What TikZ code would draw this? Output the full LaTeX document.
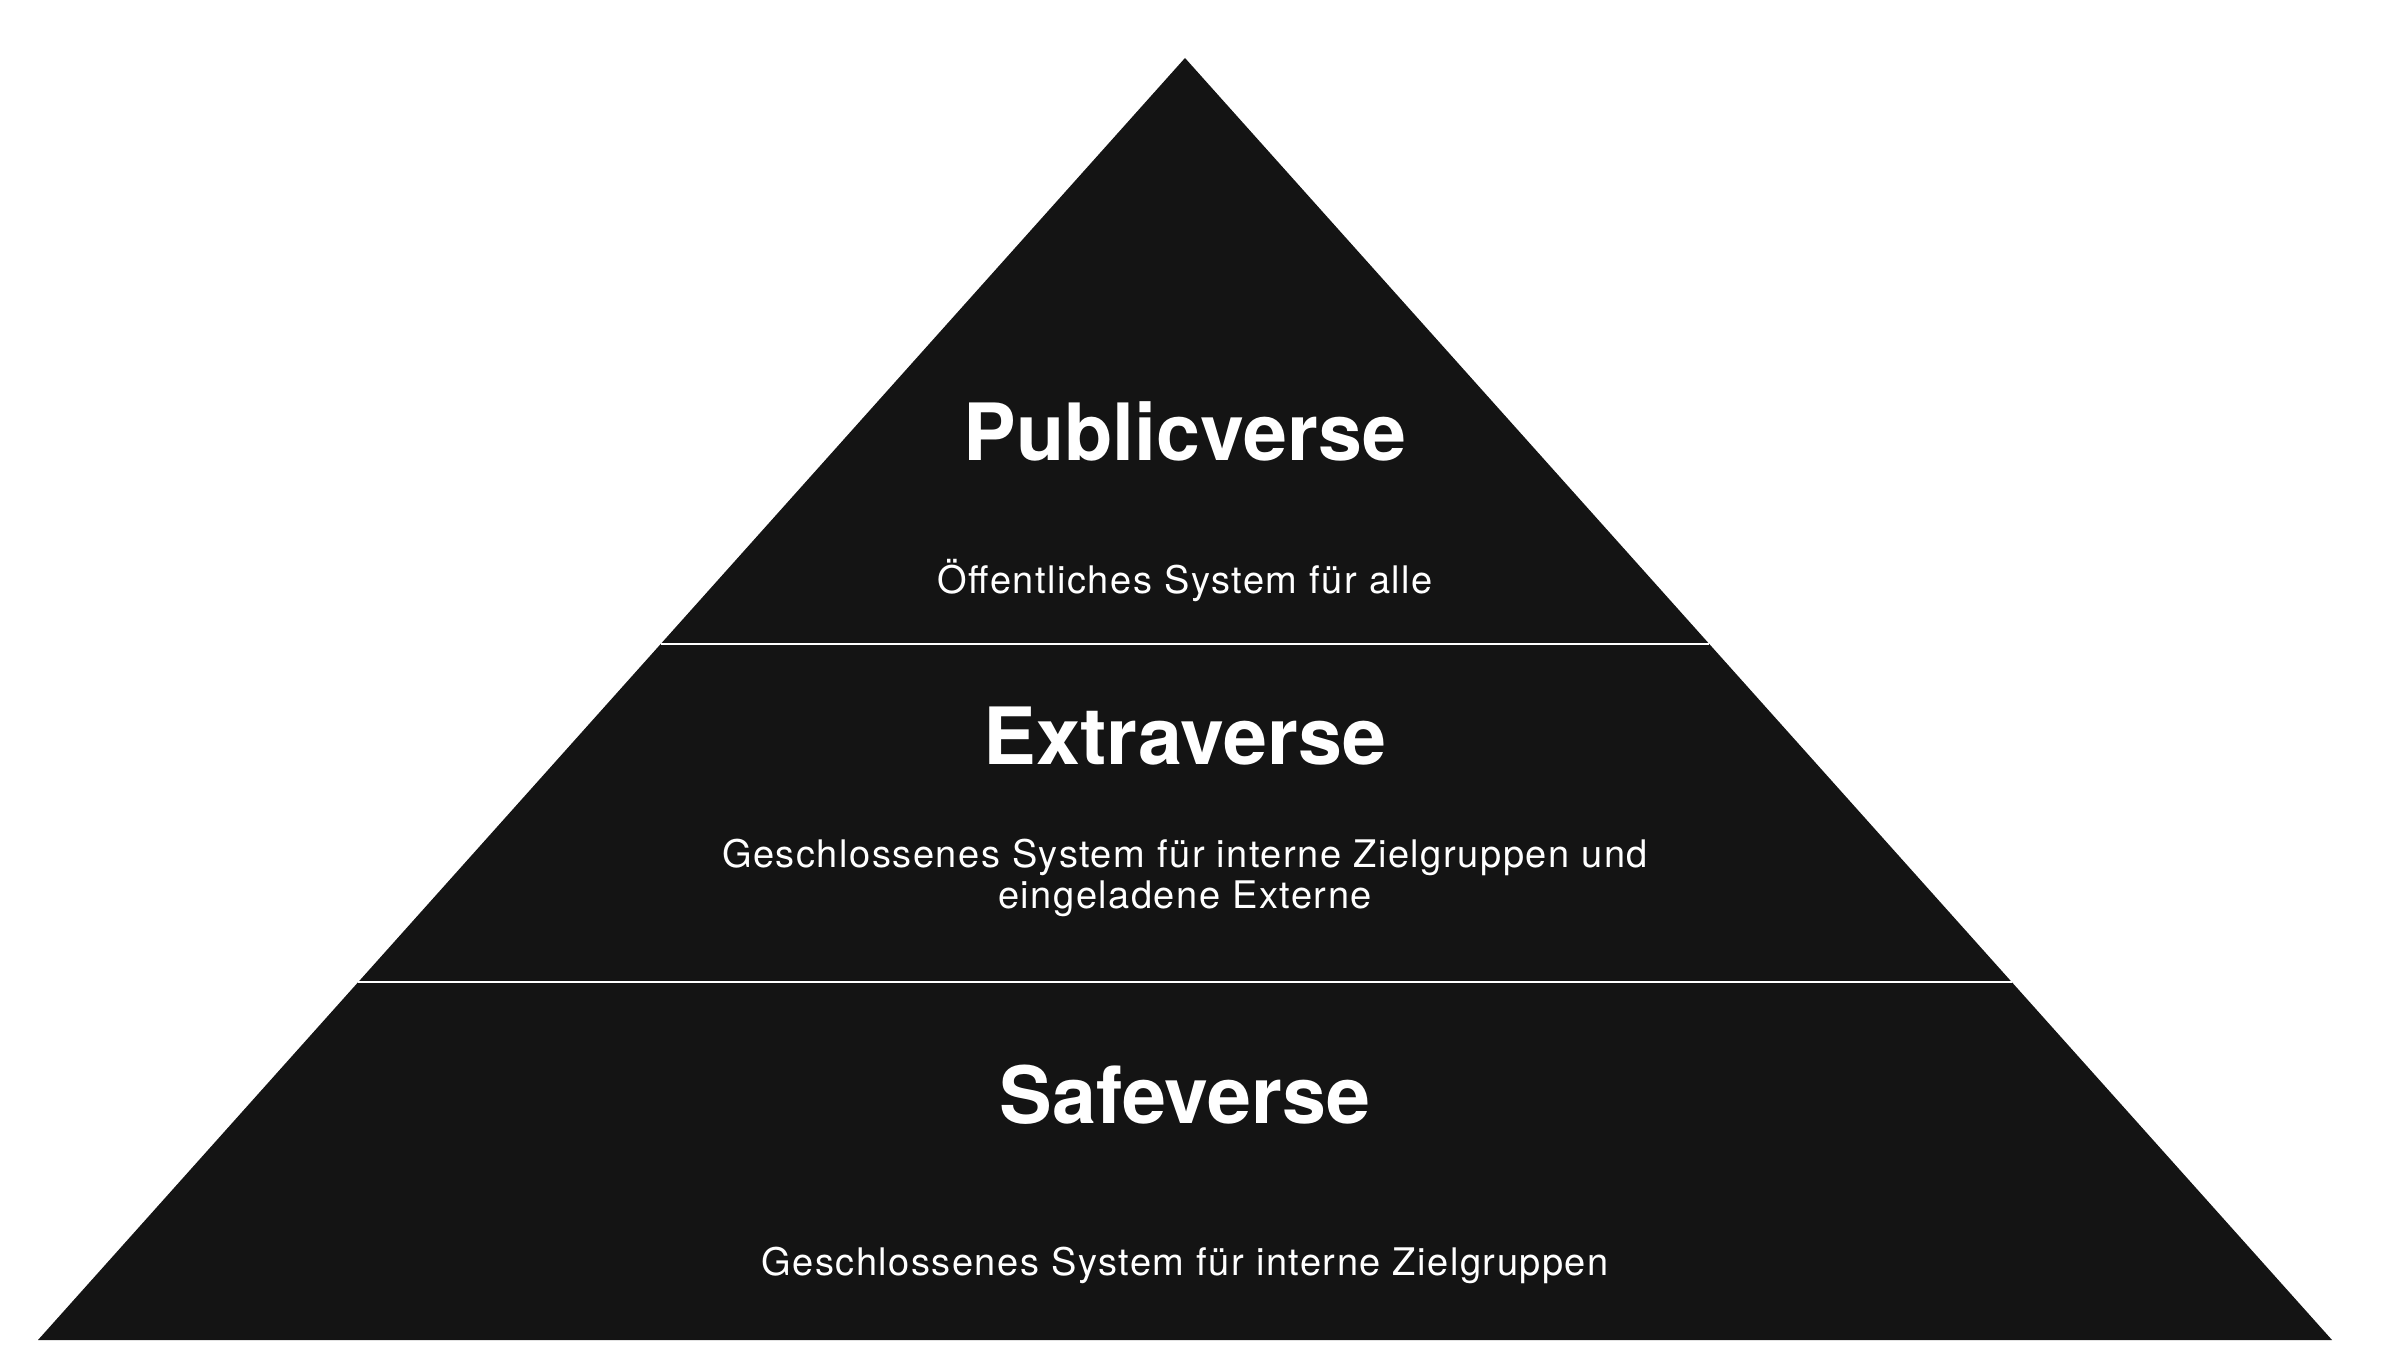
\documentclass[tikz,border=0pt]{standalone}
\usepackage{fontspec}
\setmainfont{TeX Gyre Heros}
\newfontfamily\subfont[LetterSpace=4]{TeX Gyre Heros}
\usetikzlibrary{calc}
\definecolor{pyramid}{RGB}{20,20,20}
\tikzstyle{layer} = [text=white, anchor=base, inner sep=0pt]
\tikzstyle{title} = [layer, font=\bfseries\fontsize{39.5}{44}\selectfont]
\tikzstyle{caption} = [layer, align=center,
                       font=\subfont\fontsize{19}{20.5}\selectfont]
\tikzstyle{divider} = [draw=white, line width=1pt]
\begin{document}
\begin{tikzpicture}[x=0.5pt, y=-0.5pt]
  \useasboundingbox (0,0) rectangle (2384,1354);
  \coordinate (apex) at (1185,58);
  \coordinate (left) at (38,1340);
  \coordinate (right) at (2332,1340);
  \fill[pyramid] (apex) -- (right) -- (left) -- cycle;
  % dividers between the layers
  \coordinate (upperL) at (660.7,644);
  \coordinate (upperR) at (1709.3,644);
  \coordinate (lowerL) at (358.3,982);
  \coordinate (lowerR) at (2011.7,982);
  \draw[divider] (upperL) -- (upperR);
  \draw[divider] (lowerL) -- (lowerR);
  % labels
  \node[title] (publicverse) at (1185,460) {Publicverse};
  \node[caption] (publictext) at (1185,593) {Öffentliches System für alle};
  \node[title] (extraverse) at (1185,764) {Extraverse};
  \node[caption] (extratext) at (1185,908)
    {Geschlossenes System für interne Zielgruppen und\\eingeladene Externe};
  \node[title] (safeverse) at (1185,1123) {Safeverse};
  \node[caption] (safetext) at (1185,1275)
    {Geschlossenes System für interne Zielgruppen};
\end{tikzpicture}
\end{document}
